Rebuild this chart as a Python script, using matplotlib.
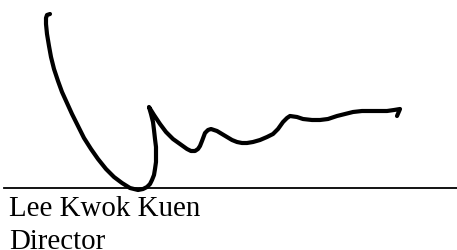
import matplotlib
matplotlib.use("Agg")
from matplotlib import pyplot as plt

# Signature stroke (pixel coords, y down)
sig_x = [50, 47, 46, 46, 47, 49, 51, 54, 58, 62, 67, 72, 78, 84, 91, 98, 106, 114, 122,
         130, 138, 143, 147, 150, 152, 154, 155, 156, 156, 156, 155, 154, 153, 151, 149,
         154, 160, 166, 173, 180, 187, 191, 195, 198, 200, 202, 205, 208, 211, 217, 222, 227,
         232, 237, 242, 247, 253, 260, 267, 273, 278, 283, 287, 290, 297, 303, 312, 320, 328,
         337, 345, 353, 362, 370, 378, 387, 394, 400, 397]
sig_y = [15, 16, 19, 25, 35, 47, 58, 70, 82, 93, 104, 115, 127, 139, 150, 160, 170, 178, 184,
         189, 191, 190, 188, 185, 181, 176, 170, 163, 157, 148, 140, 131, 123, 115, 108,
         116, 125, 133, 140, 145, 150, 152, 152, 150, 147, 142, 134, 131, 130, 132, 135, 138,
         141, 143, 144, 144, 143, 141, 138, 135, 130, 123, 119, 117, 118, 120, 121, 121, 120,
         117, 115, 113, 112, 112, 112, 112, 111, 110, 117]

# Signature line
line_x = [4, 457]
line_y = [189, 189]

name = "Lee Kwok Kuen"
title = "Director"

fig = plt.figure(figsize=(4.57, 2.51), dpi=100)
ax = fig.add_axes([0, 0, 1, 1])
ax.set_xlim(0, 457)
ax.set_ylim(251, 0)
ax.axis("off")

ax.plot(sig_x, sig_y, color="black", lw=3.0, solid_joinstyle="round", solid_capstyle="round")
ax.plot(line_x, line_y, color="black", lw=1.3)

ax.text(9, 216, name, fontsize=20.8, family="Liberation Serif", va="baseline", ha="left")
ax.text(9, 249, title, fontsize=20.8, family="Liberation Serif", va="baseline", ha="left")

fig.savefig("out.png", dpi=100)
